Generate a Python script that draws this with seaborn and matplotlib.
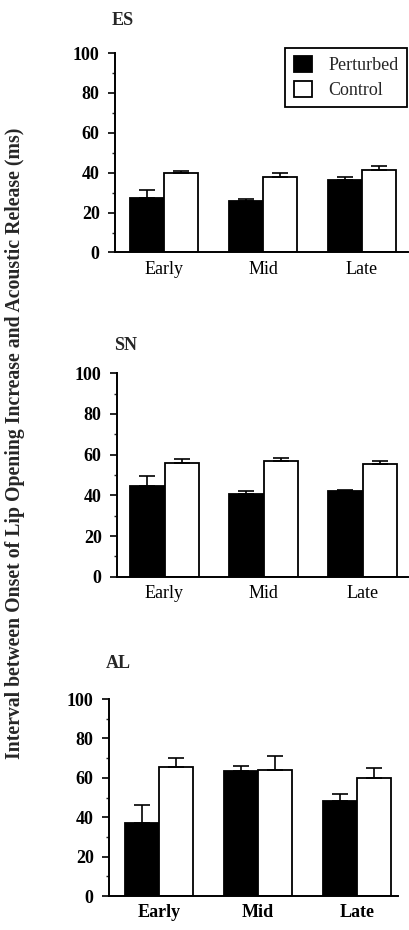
import numpy as np
import pandas as pd
import matplotlib
matplotlib.use('Agg')
import matplotlib.pyplot as plt
import seaborn as sns
from matplotlib.ticker import MultipleLocator

sns.set_style('ticks')
plt.rcParams['font.family'] = ['Liberation Serif', 'DejaVu Serif']

# du lieu doc tu hinh
phases = ['Early', 'Mid', 'Late']
conditions = ['Perturbed', 'Control']
subjects = ['ES', 'SN', 'AL']

es_perturbed = [27.3, 25.8, 36.4]
es_perturbed_err = [4.1, 1.0, 1.3]
es_control = [39.9, 37.7, 41.5]
es_control_err = [1.1, 2.0, 2.0]

sn_perturbed = [44.8, 40.6, 41.9]
sn_perturbed_err = [4.8, 1.6, 0.8]
sn_control = [55.9, 57.0, 55.4]
sn_control_err = [1.9, 1.3, 1.7]

al_perturbed = [37.2, 63.6, 48.4]
al_perturbed_err = [9.0, 2.4, 3.4]
al_control = [65.6, 64.0, 59.7]
al_control_err = [4.3, 7.1, 5.4]

values = {'ES': (es_perturbed, es_control), 'SN': (sn_perturbed, sn_control),
          'AL': (al_perturbed, al_control)}
errors = {'ES': (es_perturbed_err, es_control_err), 'SN': (sn_perturbed_err, sn_control_err),
          'AL': (al_perturbed_err, al_control_err)}

rows = []
for s in subjects:
    for c, vals, errs in zip(conditions, values[s], errors[s]):
        for p, v, e in zip(phases, vals, errs):
            rows.append({'subject': s, 'phase': p, 'condition': c, 'value': v, 'err': e})
df = pd.DataFrame(rows)

W, H = 409, 930
fig = plt.figure(figsize=(W / 100, H / 100), dpi=100)

# vi tri cac o (pixel): left, right, top, bottom, tam nhom dau, title pad
layout = {
    'ES': (115, 408, 53, 252.5, 164, 20),
    'SN': (117, 408, 373.3, 576.7, 164.5, 17),
    'AL': (109, 398, 699, 896, 159, 22),
}
px_per_group = 99
FS = 13

for i, s in enumerate(subjects):
    left, right, top, bottom, c0, tpad = layout[s]
    ax = fig.add_axes([left / W, 1 - bottom / H, (right - left) / W, (bottom - top) / H])
    sub = df[df.subject == s]
    sns.barplot(data=sub, x='phase', y='value', hue='condition', order=phases,
                hue_order=conditions, palette={'Perturbed': 'black', 'Control': 'white'},
                edgecolor='black', linewidth=1.3, width=0.69, errorbar=None,
                saturation=1, ax=ax, legend=(i == 0))

    # error bar chi ve phia tren
    for cont, c in zip(ax.containers, conditions):
        errs = sub[sub.condition == c].set_index('phase').loc[phases, 'err'].values
        for bar, e in zip(cont, errs):
            ax.errorbar(bar.get_x() + bar.get_width() / 2, bar.get_height(),
                        yerr=[[0], [e]], fmt='none', ecolor='black',
                        elinewidth=1.2, capsize=5.5, capthick=1.2, zorder=3)

    xl = -(c0 - left) / px_per_group
    ax.set_xlim(xl, xl + (right - left) / px_per_group)
    ax.set_ylim(0, 100)
    ax.yaxis.set_major_locator(MultipleLocator(20))
    ax.yaxis.set_minor_locator(MultipleLocator(10))
    ax.set_xlabel('')
    ax.set_ylabel('')
    sns.despine(ax=ax)
    for sp in ['left', 'bottom']:
        ax.spines[sp].set_linewidth(1.4)
        ax.spines[sp].set_color('black')
    ax.tick_params(axis='y', which='major', length=5, width=1.2, pad=6,
                   labelsize=FS, colors='black')
    ax.tick_params(axis='y', which='minor', length=2.5, width=1)
    ax.tick_params(axis='x', length=0, pad=6, labelsize=FS, colors='black')
    for t in ax.get_yticklabels():
        t.set_fontweight('bold')
    if s == 'AL':
        for t in ax.get_xticklabels():
            t.set_fontweight('bold')
    ax.set_title(s, loc='left', fontweight='bold', fontsize=FS, pad=tpad, x=-0.01)

    if i == 0:
        h, l = ax.get_legend_handles_labels()
        ax.get_legend().remove()
        leg = ax.legend(h, l, loc='upper right', bbox_to_anchor=(0.997, 1.025),
                        borderaxespad=0, frameon=True, fancybox=False,
                        edgecolor='black', framealpha=1, fontsize=FS,
                        handlelength=1.0, handleheight=1.0, handletextpad=0.95,
                        labelspacing=0.35, borderpad=0.45)
        leg.get_frame().set_linewidth(1.3)

fig.text(15 / W, 1 - 443 / H,
         'Interval between Onset of Lip Opening Increase and Acoustic Release (ms)',
         rotation=90, ha='center', va='center', fontweight='bold', fontsize=14.2)

fig.savefig('out.png', dpi=100)
